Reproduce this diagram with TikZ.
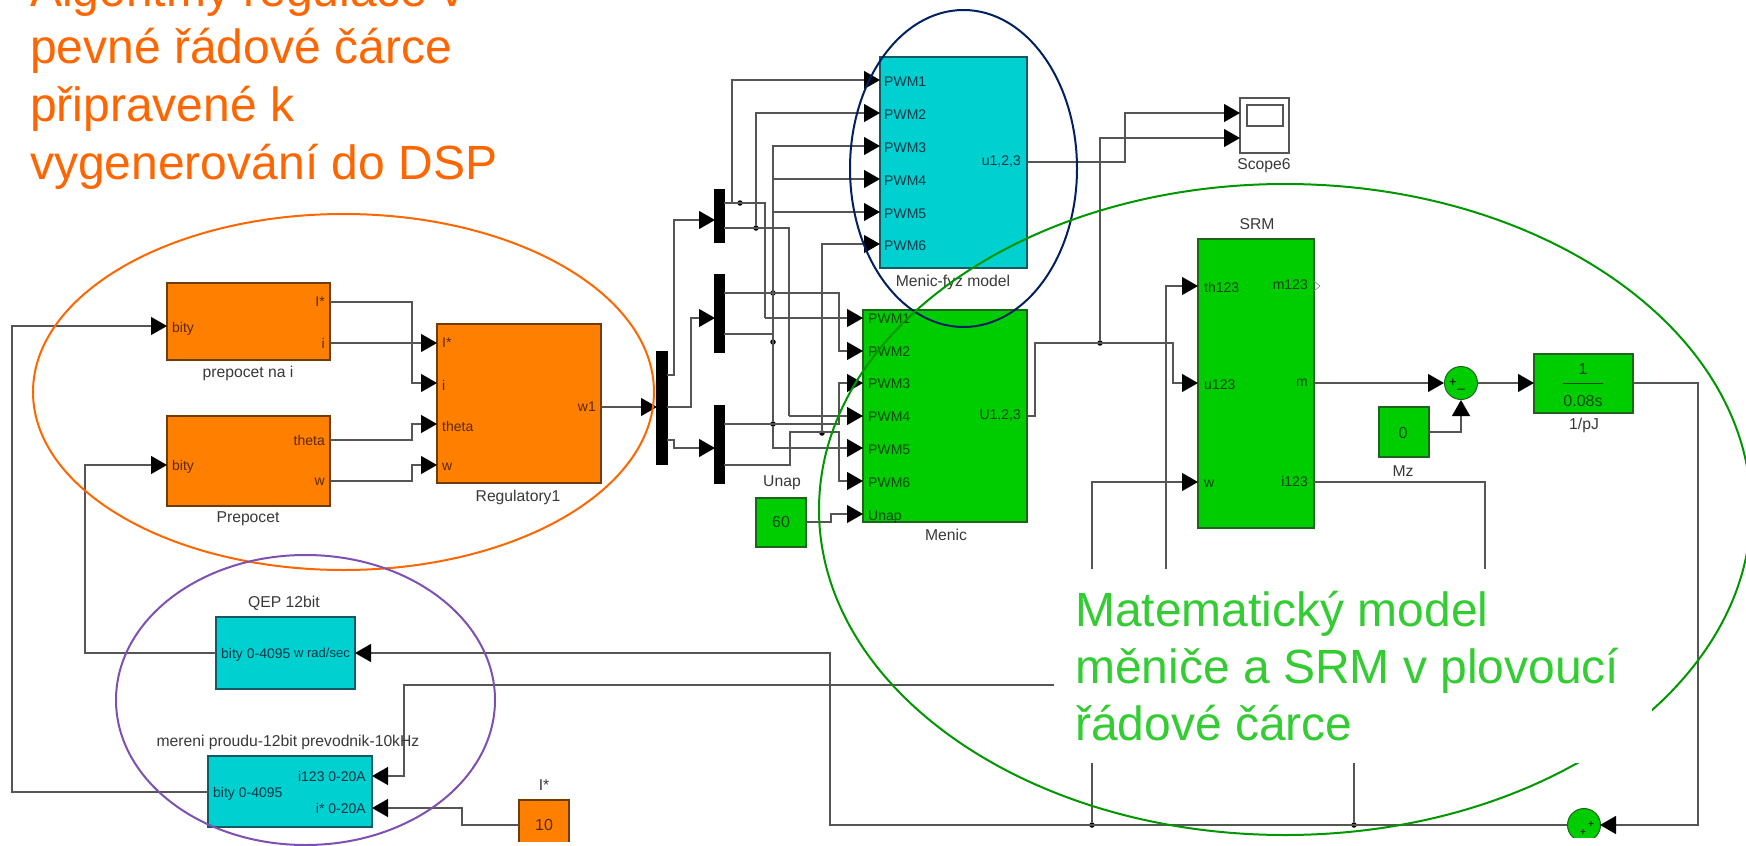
\documentclass[tikz,border=0pt]{standalone}
\usepackage{fontspec}
\setmainfont{Liberation Sans}
\usetikzlibrary{arrows.meta}
\definecolor{blkorange}{RGB}{255,128,0}
\definecolor{blkgreen}{RGB}{0,205,0}
\definecolor{blkcyan}{RGB}{0,208,208}
\definecolor{wire}{RGB}{85,85,85}
\definecolor{edgeg}{RGB}{30,100,30}
\definecolor{edgeo}{RGB}{110,60,10}
\definecolor{edgec}{RGB}{20,90,100}
\definecolor{labg}{RGB}{5,70,5}
\definecolor{labc}{RGB}{0,55,70}
\definecolor{labo}{RGB}{90,40,0}
\definecolor{txtorange}{RGB}{255,102,0}
\definecolor{txtgreen}{RGB}{51,204,51}
\definecolor{ringorange}{RGB}{255,102,0}
\definecolor{ringpurple}{RGB}{127,80,178}
\definecolor{ringnavy}{RGB}{0,32,96}
\definecolor{ringgreen}{RGB}{0,150,0}
\tikzset{
 wirepath/.style={draw=wire,line width=1.3pt,line join=miter},
 arr/.style={wirepath,-{Triangle[length=16pt,width=18pt,black]}},
 solder/.style={circle,fill=black,inner sep=0pt,minimum size=5.5pt},
 blockbase/.style={draw=#1,line width=1.2pt,inner sep=0pt,outer sep=0pt,anchor=north west},
 orangeblock/.style={blockbase=edgeo,fill=blkorange},
 greenblock/.style={blockbase=edgeg,fill=blkgreen},
 cyanblock/.style={blockbase=edgec,fill=blkcyan},
 barblock/.style={blockbase=black,fill=black},
 scopeblock/.style={blockbase=wire,fill=white},
 sumnode/.style={circle,draw=edgeg,fill=blkgreen,line width=1pt,inner sep=0pt,minimum size=33pt},
 caption/.style={font=\fontsize{15.7}{17}\selectfont,text=black!78,inner sep=0pt},
 portg/.style={font=\fontsize{14}{16}\selectfont,text=labg,inner sep=0pt},
 portc/.style={font=\fontsize{14}{16}\selectfont,text=labc,inner sep=0pt},
 porto/.style={font=\fontsize{14}{16}\selectfont,text=labo,inner sep=0pt},
 ring/.style={draw=#1,line width=2pt},
 bigtitle/.style={font=\fontsize{48}{56}\selectfont,inner sep=0pt,anchor=base west},
}
\newcommand{\blockat}[6]{\node[#6,minimum width=\the\numexpr#4-#2\relax pt,minimum height=\the\numexpr#5-#3\relax pt] (#1) at (#2,#3) {};}
\newcommand{\portat}[3]{\coordinate (#1) at (#2,#3);}
\begin{document}
\begin{tikzpicture}[x=1pt,y=-1pt]
\useasboundingbox (0,0) rectangle (1746,846);
\clip (0,0) rectangle (1746,846);
% blocks
\blockat{prei}{167}{283}{330}{360}{orangeblock}
\blockat{prep}{167}{416}{330}{506}{orangeblock}
\blockat{reg}{437}{324}{601}{483}{orangeblock}
\blockat{qep}{216}{617}{355}{689}{cyanblock}
\blockat{mer}{208}{756}{372}{827}{cyanblock}
\blockat{ten}{519}{800}{569}{860}{orangeblock}
\blockat{fyz}{880}{57}{1027}{268}{cyanblock}
\blockat{men}{863}{310}{1027}{522}{greenblock}
\blockat{una}{756}{498}{806}{547}{greenblock}
\blockat{srm}{1198}{239}{1314}{528}{greenblock}
\blockat{mz}{1379}{407}{1429}{457}{greenblock}
\blockat{pj}{1534}{354}{1633}{413}{greenblock}
\blockat{dmx}{657}{352}{667}{464}{barblock}
\blockat{dma}{715}{190}{724}{242}{barblock}
\blockat{dmb}{715}{275}{724}{352}{barblock}
\blockat{dmc}{715}{406}{724}{483}{barblock}
\blockat{sco}{1240}{98}{1289}{153}{scopeblock}
\blockat{scr}{1247}{105}{1283}{126}{scopeblock}
\node[sumnode] (sumt) at (1461,383) {};
\node[sumnode] (sumb) at (1584,825) {};
% ports
\portat{reiS}{330}{302}\portat{reiI}{330}{343}\portat{reth}{330}{440}\portat{rew}{330}{481}
\portat{gIs}{437}{343}\portat{gi}{437}{383}\portat{gth}{437}{424}\portat{gw}{437}{465}\portat{gout}{601}{407}
\portat{pbit}{167}{326}\portat{qbit}{167}{465}
\portat{qout}{216}{653}\portat{qin}{355}{653}\portat{mout}{208}{792}\portat{mi}{372}{776}\portat{ms}{372}{808}
\portat{tout}{519}{825}
\portat{dxin}{657}{407}\portat{dxa}{667}{375}\portat{dxb}{667}{407}\portat{dxc}{667}{440}
\portat{dain}{715}{220}\portat{dbin}{715}{318}\portat{dcin}{715}{448}
\portat{da1}{724}{203}\portat{da2}{724}{228}\portat{db1}{724}{293}\portat{db2}{724}{334}\portat{dc1}{724}{424}\portat{dc2}{724}{465}
\portat{f1}{880}{80}\portat{f2}{880}{113}\portat{f3}{880}{146}\portat{f4}{880}{179}\portat{f5}{880}{212}\portat{f6}{880}{244}\portat{fout}{1027}{162}
\portat{m1}{863}{318}\portat{m2}{863}{351}\portat{m3}{863}{383}\portat{m4}{863}{416}\portat{m5}{863}{448}\portat{m6}{863}{481}\portat{m7}{863}{514}\portat{mnout}{1027}{416}
\portat{uout}{806}{522}
\portat{sc1}{1240}{113}\portat{sc2}{1240}{138}
\portat{sth}{1198}{286}\portat{su}{1198}{383}\portat{sw}{1198}{482}\portat{sm}{1314}{383}\portat{si}{1314}{482}
\portat{tl}{1444}{383}\portat{tb}{1461}{400}\portat{tr}{1478}{383}
\portat{mzo}{1429}{432}\portat{pin}{1534}{383}\portat{pout}{1633}{383}\portat{bsr}{1600}{825}\portat{bsl}{1567}{825}
% junctions
\node[solder] (j1) at (740,203) {};
\node[solder] (j2) at (756,228) {};
\node[solder] (j3) at (773,293) {};
\node[solder] (j4) at (773,342) {};
\node[solder] (j5) at (773,424) {};
\node[solder] (j6) at (822,433) {};
\node[solder] (j7) at (1100,343) {};
\node[solder] (j8) at (1092,825) {};
\node[solder] (j9) at (1354,825) {};
% wires left
\draw[arr] (reiS) -- (412,302) -- (412,383) -- (gi);
\draw[arr] (reiI) -- (gIs);
\draw[arr] (reth) -- (412,440) -- (412,424) -- (gth);
\draw[arr] (rew) -- (412,481) -- (412,465) -- (gw);
\draw[arr] (mout) -- (12,792) -- (12,326) -- (pbit);
\draw[arr] (qout) -- (85,653) -- (85,465) -- (qbit);
\draw[arr] (gout) -- (dxin);
\draw[arr] (dxa) -- (674,375) -- (674,220) -- (dain);
\draw[arr] (dxb) -- (691,407) -- (691,318) -- (dbin);
\draw[arr] (dxc) -- (674,440) -- (674,448) -- (dcin);
\draw[arr] (tout) -- (462,825) -- (462,808) -- (ms);
% bus
\draw[arr] (732,203) -- (732,80) -- (f1);
\draw[wirepath] (da1) -- (765,203) -- (765,318);
\draw[arr] (765,318) -- (m1);
\draw[wirepath] (da2) -- (789,228) -- (789,416);
\draw[arr] (789,416) -- (m4);
\draw[arr] (j2) -- (756,113) -- (f2);
\draw[arr] (j5) -- (773,146) -- (f3);
\draw[arr] (773,179) -- (f4);
\draw[arr] (773,212) -- (f5);
\draw[arr] (j5) -- (773,448) -- (m5);
\draw[arr] (j6) -- (822,244) -- (f6);
\draw[arr] (db1) -- (839,293) -- (839,351) -- (m2);
\draw[wirepath] (db2) -- (773,334);
\draw[arr] (dc1) -- (839,424) -- (839,383) -- (m3);
\draw[arr] (dc2) -- (790,465) -- (790,432) -- (839,432) -- (839,481) -- (m6);
\draw[arr] (uout) -- (831,522) -- (831,514) -- (m7);
% right
\draw[arr] (fout) -- (1125,162) -- (1125,113) -- (sc1);
\draw[arr] (j7) -- (1100,138) -- (sc2);
\draw[arr] (mnout) -- (1035,416) -- (1035,343) -- (1173,343) -- (1173,383) -- (su);
\draw[arr] (1166,700) -- (1166,286) -- (sth);
\draw[arr] (j8) -- (1092,482) -- (sw);
\draw[wirepath] (si) -- (1485,482) -- (1485,685) -- (1354,685);
\draw[wirepath] (j9) -- (1354,700);
\draw[arr] (sm) -- (tl);
\draw[arr] (mzo) -- (1461,432) -- (tb);
\draw[arr] (tr) -- (pin);
\draw[arr] (pout) -- (1698,383) -- (1698,825) -- (bsr);
\draw[arr] (bsl) -- (830,825) -- (830,653) -- (qin);
\draw[arr] (1092,685) -- (404,685) -- (404,776) -- (mi);
\draw[draw=gray,line width=.6pt] (1314,281) -- (1320,286) -- (1314,291);
% fraction
\node[portg,font=\fontsize{16}{18}\selectfont] (fr1) at (1583,369) {1};
\node[portg,font=\fontsize{16}{18}\selectfont] (fr2) at (1583,401) {0.08s};
\draw[draw=labg,line width=1pt] (fr2.west |- pin) -- (fr2.east |- pin);
% captions
\node[caption] (c1) at (248,373) {prepocet na i};
\node[caption] (c2) at (248,519) {Prepocet};
\node[caption] (c3) at (518,497) {Regulatory1};
\node[caption] (c4) at (284,603) {QEP 12bit};
\node[caption] (c5) at (288,742) {mereni proudu-12bit prevodnik-10kHz};
\node[caption] (c6) at (544,785) {I*};
\node[caption] (c7) at (953,282) {Menic-fyz model};
\node[caption] (c8) at (946,535) {Menic};
\node[caption] (c9) at (782,483) {Unap};
\node[caption] (c10) at (1264,166) {Scope6};
\node[caption] (c11) at (1257,224) {SRM};
\node[caption] (c12) at (1403,471) {Mz};
\node[caption] (c13) at (1584,425) {1/pJ};
% port labels
\foreach \n/\t/\yy in {a/PWM1/82,b/PWM2/115,c/PWM3/148,d/PWM4/181,e/PWM5/214,f/PWM6/246}
  \node[portc,anchor=west] (fl\n) at (884,\yy) {\t};
\foreach \n/\t/\yy in {a/PWM1/319,b/PWM2/352,c/PWM3/384,d/PWM4/417,e/PWM5/450,f/PWM6/483,g/Unap/517}
  \node[portg,anchor=west] (ml\n) at (868,\yy) {\t};
\node[portc,anchor=east] (fo) at (1021,162) {u1,2,3};
\node[portg,anchor=east] (mo) at (1021,416) {U1,2,3};
\node[portg,font=\fontsize{16}{18}\selectfont] (v60) at (781,522) {60};
\node[portg,font=\fontsize{16}{18}\selectfont] (v0) at (1403,433) {0};
\node[porto,font=\fontsize{16}{18}\selectfont] (v10) at (544,825) {10};
\node[portg,anchor=west] (s1) at (1204,287) {th123};
\node[portg,anchor=west] (s2) at (1204,385) {u123};
\node[portg,anchor=west] (s3) at (1204,484) {w};
\node[portg,anchor=east] (s4) at (1308,285) {m123};
\node[portg,anchor=east] (s5) at (1308,383) {m};
\node[portg,anchor=east] (s6) at (1308,481) {i123};
\node[porto,anchor=west] (o1) at (172,329) {bity};
\node[porto,anchor=west] (o2) at (172,467) {bity};
\node[porto,anchor=east] (o3) at (325,302) {I*};
\node[porto,anchor=east] (o4) at (325,343) {i};
\node[porto,anchor=east] (o5) at (325,440) {theta};
\node[porto,anchor=east] (o6) at (325,482) {w};
\node[porto,anchor=west] (o7) at (442,343) {I*};
\node[porto,anchor=west] (o8) at (442,385) {i};
\node[porto,anchor=west] (o9) at (442,426) {theta};
\node[porto,anchor=west] (o10) at (442,467) {w};
\node[porto,anchor=east] (o11) at (596,407) {w1};
\node[portc,anchor=west] (q1) at (221,655) {bity 0-4095};
\node[portc,anchor=east,font=\fontsize{13}{15}\selectfont] (q2) at (350,653) {w rad/sec};
\node[portc,anchor=west] (q3) at (213,794) {bity 0-4095};
\node[portc,anchor=east] (q4) at (366,776) {i123 0-20A};
\node[portc,anchor=east] (q5) at (366,808) {i* 0-20A};
\node[font=\fontsize{13}{14}\selectfont,inner sep=0pt] (sp) at (1453,383) {+};
\node[font=\fontsize{13}{14}\selectfont,inner sep=0pt] (sn) at (1461,389) {\_};
\node[font=\fontsize{10}{11}\selectfont,inner sep=0pt] (bp1) at (1591,825) {+};
\node[font=\fontsize{10}{11}\selectfont,inner sep=0pt] (bp2) at (1583,833) {+};
% rings
\draw[ring=ringorange] (343.5,392) ellipse [x radius=310.5,y radius=178];
\draw[ring=ringpurple] (305.5,700) ellipse [x radius=189.5,y radius=145];
\draw[ring=ringnavy] (963.5,168.5) ellipse [x radius=113.5,y radius=158.5];
\draw[ring=ringgreen] (1285,509.5) ellipse [x radius=466,y radius=325.5];
% masks
\fill[white] (1054,569) rectangle (1652,763);
\fill[white] (1500,838) rectangle (1746,846);
\fill[white] (500,842) rectangle (600,846);
% big texts
\node[bigtitle,text=txtorange] (t1) at (30,6) {Algoritmy regulace v};
\node[bigtitle,text=txtorange] (t2) at (30,63) {pevné řádové čárce};
\node[bigtitle,text=txtorange] (t3) at (30,121) {připravené k};
\node[bigtitle,text=txtorange] (t4) at (30,179) {vygenerování do DSP};
\node[bigtitle,text=txtgreen] (g1) at (1075,626) {Matematický model};
\node[bigtitle,text=txtgreen] (g2) at (1075,683) {měniče a SRM v plovoucí};
\node[bigtitle,text=txtgreen] (g3) at (1075,740) {řádové čárce};
\end{tikzpicture}
\end{document}
